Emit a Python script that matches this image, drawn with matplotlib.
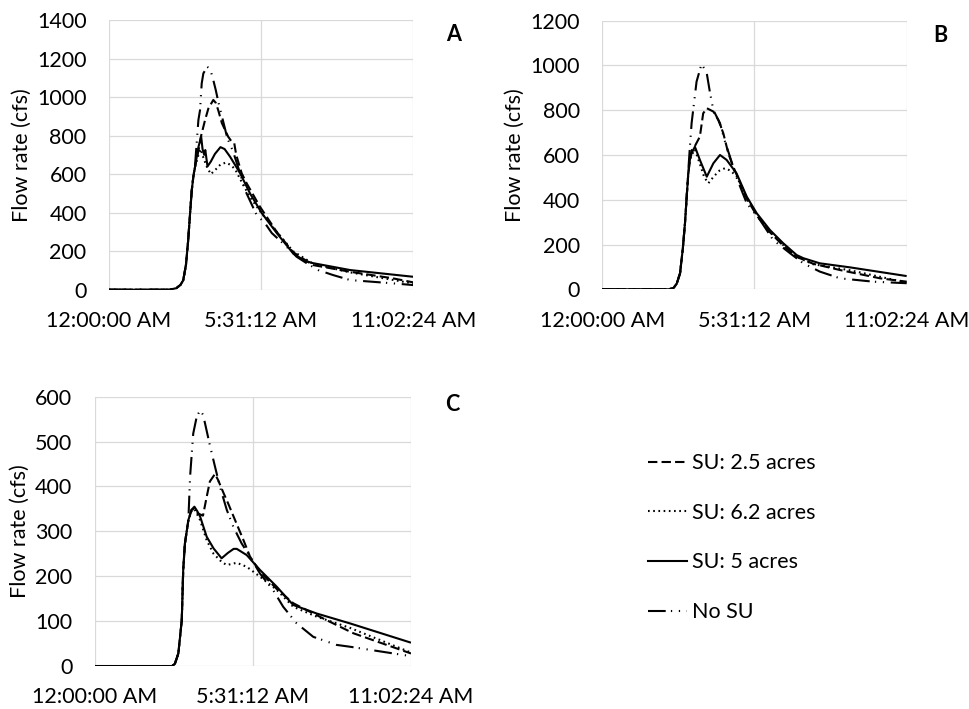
import matplotlib
matplotlib.use("Agg")
import matplotlib.pyplot as plt
from matplotlib.lines import Line2D

plt.rcParams["font.family"] = ["Lato", "DejaVu Sans"]

# ---- time axis (hours after midnight) ----
x_ticks = [0.0, 5.52, 11.04]
x_tick_labels = ["12:00:00 AM", "5:31:12 AM", "11:02:24 AM"]

# ---- Panel A ----
a_hours_su25 = [0, 2.2, 2.45, 2.6, 2.7, 2.8, 2.88, 2.95, 3.01, 3.07, 3.13, 3.25, 3.35, 3.49, 3.61, 3.79, 3.88,
                3.97, 4.10, 4.33, 4.45, 4.55, 4.62, 4.82, 5.0, 5.48, 6.09, 6.68, 7.40, 8.75, 10.3, 11.04]
a_flow_su25 = [0, 0, 8, 25, 49, 130, 257, 400, 517, 590, 639, 720, 800, 880, 940, 985, 970,
               931, 865, 794, 770, 760, 700, 604, 552, 431, 300, 195, 128, 93, 59, 38]
a_hours_su62 = [0, 2.2, 2.45, 2.6, 2.7, 2.8, 2.88, 2.95, 3.01, 3.07, 3.13, 3.25, 3.33, 3.42, 3.55, 3.70, 3.85,
                4.05, 4.25, 4.45, 4.6, 4.76, 5.12, 5.55, 6.09, 6.68, 7.4, 8.75, 11.04]
a_flow_su62 = [0, 0, 8, 25, 49, 130, 257, 400, 517, 590, 639, 700, 730, 690, 640, 600, 620,
               650, 660, 645, 620, 575, 480, 395, 300, 200, 135, 90, 32]
a_hours_su5 = [0, 2.2, 2.45, 2.6, 2.7, 2.8, 2.88, 2.95, 3.01, 3.07, 3.13, 3.25, 3.35, 3.40, 3.46, 3.50, 3.58,
               3.70, 3.85, 4.05, 4.20, 4.40, 4.76, 5.12, 5.55, 6.09, 6.68, 7.10, 7.40, 8.75, 11.04]
a_flow_su5 = [0, 0, 8, 25, 49, 130, 257, 400, 517, 590, 639, 740, 795, 730, 700, 725, 640,
              665, 705, 740, 730, 690, 605, 500, 397, 294, 189, 150, 138, 102, 67]
a_hours_nosu = [0, 2.2, 2.45, 2.6, 2.7, 2.8, 2.88, 2.95, 3.01, 3.07, 3.13, 3.25, 3.31, 3.37, 3.43, 3.57, 3.68,
                3.79, 3.88, 3.97, 4.30, 4.5, 4.76, 4.94, 5.36, 5.66, 5.91, 6.45, 6.81, 7.18, 7.59, 8.13,
                8.75, 10.3, 11.04]
a_flow_nosu = [0, 0, 8, 25, 49, 130, 257, 400, 517, 590, 650, 881, 933, 1071, 1123, 1157, 1145,
               1088, 1036, 976, 786, 720, 604, 517, 388, 346, 294, 223, 171, 137, 102, 76,
               50, 33, 24]

# ---- Panel B ----
b_hours_su25 = [0, 2.4, 2.58, 2.7, 2.82, 2.92, 3.0, 3.06, 3.12, 3.18, 3.24, 3.36, 3.54, 3.66, 3.79, 4.03,
                4.21, 4.39, 4.57, 4.75, 5.24, 5.60, 6.08, 6.56, 7.05, 7.65, 8.62, 10.07, 11.04]
b_flow_su25 = [0, 0, 5, 25, 71, 180, 295, 410, 518, 580, 620, 640, 682, 786, 809, 794,
               756, 697, 608, 548, 405, 330, 255, 195, 145, 114, 86, 49, 34]
b_hours_su62 = [0, 2.4, 2.58, 2.7, 2.82, 2.92, 3.0, 3.06, 3.12, 3.18, 3.24, 3.36, 3.54, 3.70, 3.85, 4.05,
                4.25, 4.45, 4.65, 4.87, 5.24, 5.60, 6.08, 6.56, 7.05, 7.65, 8.98, 11.04]
b_flow_su62 = [0, 0, 5, 25, 71, 180, 295, 410, 518, 580, 600, 625, 560, 500, 474, 505,
               530, 541, 530, 505, 410, 335, 258, 198, 145, 112, 85, 30]
b_hours_su5 = [0, 2.4, 2.58, 2.7, 2.82, 2.92, 3.0, 3.06, 3.12, 3.18, 3.24, 3.36, 3.54, 3.79, 4.03, 4.27,
               4.51, 4.87, 5.24, 5.60, 6.08, 6.56, 7.05, 7.29, 7.89, 8.98, 11.04]
b_flow_su5 = [0, 0, 5, 25, 71, 180, 295, 410, 518, 580, 608, 637, 578, 503, 563, 600,
              578, 518, 414, 340, 265, 206, 153, 139, 116, 98, 59]
b_hours_nosu = [0, 2.4, 2.58, 2.7, 2.82, 2.92, 3.0, 3.06, 3.12, 3.18, 3.24, 3.42, 3.54, 3.60, 3.68, 3.79,
                3.91, 4.03, 4.27, 4.45, 4.63, 4.81, 5.24, 5.72, 6.20, 6.81, 7.29, 7.89, 8.62, 9.82, 11.04]
b_flow_nosu = [0, 0, 5, 25, 71, 180, 295, 410, 530, 640, 742, 928, 980, 1007, 990, 965,
               876, 800, 742, 660, 593, 518, 384, 310, 220, 161, 116, 79, 49, 34, 27]

# ---- Panel C ----
c_hours_su25 = [0, 2.7, 2.80, 2.92, 3.04, 3.09, 3.15, 3.27, 3.38, 3.48, 3.6, 3.78, 3.91, 4.02, 4.20, 4.31,
                4.50, 4.66, 4.90, 5.19, 5.42, 5.77, 6.35, 6.93, 7.17, 8.10, 9.03, 11.04]
c_flow_su25 = [0, 0, 5, 28, 102, 214, 273, 325, 348, 350, 340, 335, 377, 411, 428, 414,
               385, 362, 325, 281, 244, 210, 172, 140, 132, 102, 73, 28]
c_hours_su62 = [0, 2.7, 2.80, 2.92, 3.04, 3.09, 3.15, 3.27, 3.38, 3.48, 3.68, 3.91, 4.15, 4.43, 4.61, 4.96,
                5.31, 5.77, 6.35, 6.93, 7.75, 8.91, 11.04]
c_flow_su62 = [0, 0, 5, 28, 102, 214, 273, 325, 345, 350, 325, 280, 250, 232, 225, 230,
               221, 199, 170, 132, 110, 85, 30]
c_hours_su5 = [0, 2.7, 2.80, 2.92, 3.04, 3.09, 3.15, 3.27, 3.38, 3.48, 3.58, 3.68, 3.91, 4.15, 4.43, 4.65,
               4.85, 4.96, 5.31, 5.77, 6.35, 6.93, 7.75, 8.91, 11.04]
c_flow_su5 = [0, 0, 5, 28, 102, 214, 273, 325, 348, 355, 345, 333, 288, 262, 240, 252,
              261, 261, 247, 214, 177, 136, 117, 95, 52]
c_hours_nosu = [0, 2.7, 2.80, 2.92, 3.04, 3.09, 3.15, 3.27, 3.33, 3.44, 3.56, 3.68, 3.78, 3.85, 4.02, 4.20,
                4.37, 4.61, 4.84, 5.13, 5.42, 5.77, 6.23, 6.58, 7.05, 7.63, 8.45, 8.91, 11.04]
c_flow_nosu = [0, 0, 5, 28, 102, 214, 273, 325, 422, 518, 555, 570, 560, 541, 492, 444,
               400, 348, 310, 273, 244, 206, 169, 132, 95, 65, 47, 43, 22]

series_labels = ["SU: 2.5 acres", "SU: 6.2 acres", "SU: 5 acres", "No SU"]

# line styles (dash patterns in multiples of line width)
styles = [
    dict(linestyle=(0, (4.5, 2.0)), linewidth=1.5),
    dict(linestyle=(0, (0.8, 1.7)), linewidth=1.5),
    dict(linestyle="-", linewidth=1.5),
    dict(linestyle=(0, (8.5, 2.5, 0.6, 3.2, 0.6, 3.2)), linewidth=1.5),
]

panels = [
    dict(rect=[0.1121, 0.5914, 0.3140, 0.3804], ymax=1400, ystep=200, letter="A",
         letter_xy=(0.4677, 0.9513), label_x=-0.253, xpad=15.0,
         data=[(a_hours_su25, a_flow_su25), (a_hours_su62, a_flow_su62),
               (a_hours_su5, a_flow_su5), (a_hours_nosu, a_flow_nosu)]),
    dict(rect=[0.6209, 0.5920, 0.3138, 0.3788], ymax=1200, ystep=200, letter="B",
         letter_xy=(0.969, 0.9496), label_x=-0.254, xpad=16.0,
         data=[(b_hours_su25, b_flow_su25), (b_hours_su62, b_flow_su62),
               (b_hours_su5, b_flow_su5), (b_hours_nosu, b_flow_nosu)]),
    dict(rect=[0.0976, 0.0606, 0.3261, 0.3799], ymax=600, ystep=100, letter="C",
         letter_xy=(0.466, 0.430), label_x=-0.2046, xpad=15.0,
         data=[(c_hours_su25, c_flow_su25), (c_hours_su62, c_flow_su62),
               (c_hours_su5, c_flow_su5), (c_hours_nosu, c_flow_nosu)]),
]

fig = plt.figure(figsize=(9.70, 7.09), dpi=100)
fs = 15.5

for p in panels:
    ax = fig.add_axes(p["rect"])
    for (hrs, flow), st in zip(p["data"], styles):
        ax.plot(hrs, flow, color="black", solid_capstyle="butt", dash_capstyle="butt", **st)
    ax.set_xlim(0, 11.04)
    ax.set_ylim(0, p["ymax"])
    ax.set_xticks(x_ticks)
    ax.set_xticklabels(x_tick_labels)
    ax.set_yticks(list(range(0, p["ymax"] + 1, p["ystep"])))
    ax.tick_params(axis="both", length=0, labelsize=fs, colors="#000000")
    ax.tick_params(axis="y", pad=16)
    ax.tick_params(axis="x", pad=p["xpad"])
    ax.grid(True, color="#d9d9d9", linewidth=0.9)
    ax.set_axisbelow(True)
    for s in ax.spines.values():
        s.set_visible(False)
    ax.set_ylabel("Flow rate (cfs)", fontsize=fs)
    ax.yaxis.set_label_coords(p["label_x"], 0.5)
    fig.text(p["letter_xy"][0], p["letter_xy"][1], p["letter"], fontsize=fs, fontweight="bold",
             ha="center", va="center")

handles = [Line2D([], [], color="black", **st) for st in styles]
fig.legend(handles, series_labels, loc="upper left", bbox_to_anchor=(0.6684, 0.361),
           frameon=False, fontsize=fs, handlelength=1.81, handletextpad=0.2,
           labelspacing=1.38, borderaxespad=0, borderpad=0)

fig.savefig("out.png", dpi=100)
